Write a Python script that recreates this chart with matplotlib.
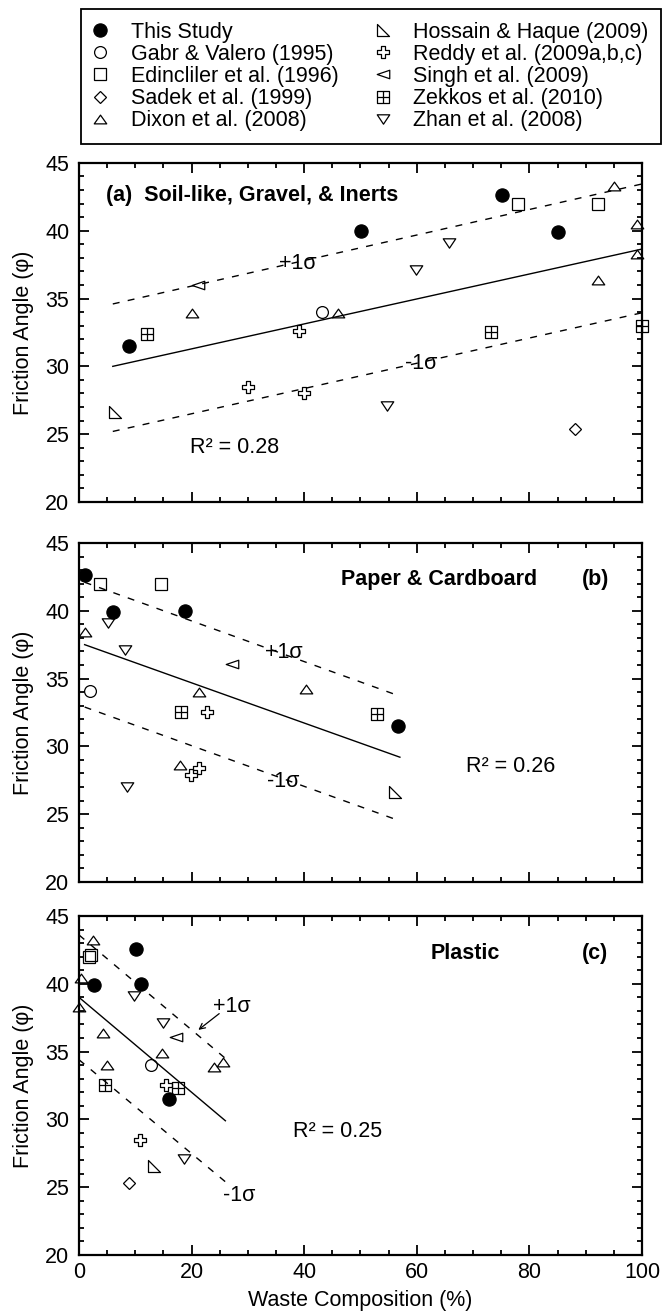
import matplotlib
matplotlib.use('Agg')
import matplotlib.pyplot as plt
from matplotlib.path import Path
from matplotlib.lines import Line2D

plt.rcParams['font.family'] = ['Liberation Sans', 'DejaVu Sans']
FS = 15.5

# ---------------- data (x = waste composition %, y = friction angle) -------------
study_labels = ['This Study', 'Gabr & Valero (1995)', 'Edincliler et al. (1996)',
                'Sadek et al. (1999)', 'Dixon et al. (2008)', 'Hossain & Haque (2009)',
                'Reddy et al. (2009a,b,c)', 'Singh et al. (2009)', 'Zekkos et al. (2010)',
                'Zhan et al. (2008)']

# (a) Soil-like, Gravel, & Inerts
soil_this_x = [8.9, 50.1, 75.1, 85.1];            soil_this_y = [31.5, 40.0, 42.6, 39.9]
soil_gabr_x = [43.1];                              soil_gabr_y = [34.0]
soil_edin_x = [78.0, 92.1];                        soil_edin_y = [42.0, 42.0]
soil_sadek_x = [88.1];                             soil_sadek_y = [25.4]
soil_dixon_x = [20.0, 46.0, 92.2, 95.1, 99.1, 99.1]; soil_dixon_y = [33.9, 33.9, 36.4, 43.3, 40.5, 38.3]
soil_hoss_x = [6.4];                               soil_hoss_y = [26.6]
soil_reddy_x = [30.0, 39.0, 40.0];                 soil_reddy_y = [28.5, 32.6, 28.0]
soil_singh_x = [21.1];                             soil_singh_y = [36.0]
soil_zek_x = [12.1, 73.1, 100.0];                  soil_zek_y = [32.4, 32.5, 33.0]
soil_zhan_x = [54.7, 59.8, 65.7];                  soil_zhan_y = [27.1, 37.1, 39.1]
soil_fit_x = [6, 100]
soil_fit_y = [30.0, 38.65]
soil_up_y = [34.6, 43.45]
soil_lo_y = [25.2, 33.95]

# (b) Paper & Cardboard
paper_this_x = [1.1, 6.1, 18.9, 56.7];             paper_this_y = [42.6, 39.9, 40.0, 31.5]
paper_gabr_x = [2.0];                              paper_gabr_y = [34.1]
paper_edin_x = [3.8, 14.5];                        paper_edin_y = [42.0, 42.0]
paper_sadek_x = [];                                paper_sadek_y = []
paper_dixon_x = [1.1, 21.3, 40.3, 17.9];           paper_dixon_y = [38.4, 34.0, 34.2, 28.6]
paper_hoss_x = [56.2];                             paper_hoss_y = [26.6]
paper_reddy_x = [22.8, 19.9, 21.4];                paper_reddy_y = [32.5, 27.9, 28.4]
paper_singh_x = [27.2];                            paper_singh_y = [36.05]
paper_zek_x = [18.1, 52.9];                        paper_zek_y = [32.5, 32.35]
paper_zhan_x = [5.1, 8.2, 8.6];                    paper_zhan_y = [39.1, 37.1, 27.0]
paper_fit_x = [1, 57]
paper_fit_y = [37.5, 29.2]
paper_up_y = [42.1, 33.7]
paper_lo_y = [32.9, 24.5]

# (c) Plastic
plast_this_x = [2.7, 10.2, 11.0, 16.0];            plast_this_y = [39.9, 42.6, 39.95, 31.5]
plast_gabr_x = [12.7];                             plast_gabr_y = [34.0]
plast_edin_x = [1.7, 2.1];                         plast_edin_y = [42.0, 42.1]
plast_sadek_x = [8.8];                             plast_sadek_y = [25.3]
plast_dixon_x = [2.5, 0.3, 0.0, 4.3, 5.0, 14.8, 23.9, 25.5]
plast_dixon_y = [43.2, 40.4, 38.3, 36.4, 34.0, 34.9, 33.9, 34.2]
plast_hoss_x = [13.3];                             plast_hoss_y = [26.6]
plast_reddy_x = [15.4, 10.9];                      plast_reddy_y = [32.5, 28.5]
plast_singh_x = [17.2];                            plast_singh_y = [36.05]
plast_zek_x = [4.7, 17.5];                         plast_zek_y = [32.5, 32.3]
plast_zhan_x = [9.8, 14.9, 18.6];                  plast_zhan_y = [39.1, 37.1, 27.1]
plast_fit_x = [0, 26]
plast_fit_y = [39.0, 29.9]
plast_up_y = [43.6, 34.5]
plast_lo_y = [34.4, 25.4]

y_ticks = [20, 25, 30, 35, 40, 45]
x_ticks = [0, 20, 40, 60, 80, 100]

# ---------------- marker definitions ----------------
M, L, C = Path.MOVETO, Path.LINETO, Path.CLOSEPOLY
tri_up = Path([(-1, -0.7), (1, -0.7), (0, 0.7), (-1, -0.7)], [M, L, L, C])
tri_down = Path([(-1, 0.75), (1, 0.75), (0, -0.75), (-1, 0.75)], [M, L, L, C])
tri_left = Path([(1, 0.68), (1, -0.68), (-1, 0), (1, 0.68)], [M, L, L, C])
tri_right_angle = Path([(-1, 1), (-1, -1), (1, -1), (-1, 1)], [M, L, L, C])
a = 0.36
plus_out = Path([(-a, 1), (a, 1), (a, a), (1, a), (1, -a), (a, -a), (a, -1), (-a, -1),
                 (-a, -a), (-1, -a), (-1, a), (-a, a), (-a, 1)],
                [M] + [L] * 11 + [C])
sq_plus = Path([(-1, -1), (1, -1), (1, 1), (-1, 1), (-1, -1), (0, -1), (0, 1), (-1, 0), (1, 0)],
               [M, L, L, L, C, M, L, M, L])

styles = [
    dict(marker='o', ms=9.5, mfc='black', mec='black'),
    dict(marker='o', ms=8.5, mfc='none', mec='black'),
    dict(marker='s', ms=8.5, mfc='none', mec='black'),
    dict(marker='D', ms=6.0, mfc='none', mec='black'),
    dict(marker=tri_up, ms=9, mfc='none', mec='black'),
    dict(marker=tri_right_angle, ms=8.5, mfc='none', mec='black'),
    dict(marker=plus_out, ms=9, mfc='none', mec='black'),
    dict(marker=tri_left, ms=9, mfc='none', mec='black'),
    dict(marker=sq_plus, ms=9, mfc='none', mec='black'),
    dict(marker=tri_down, ms=9, mfc='none', mec='black'),
]

panels = [
    dict(pts=[(soil_this_x, soil_this_y), (soil_gabr_x, soil_gabr_y), (soil_edin_x, soil_edin_y),
              (soil_sadek_x, soil_sadek_y), (soil_dixon_x, soil_dixon_y), (soil_hoss_x, soil_hoss_y),
              (soil_reddy_x, soil_reddy_y), (soil_singh_x, soil_singh_y), (soil_zek_x, soil_zek_y),
              (soil_zhan_x, soil_zhan_y)],
         fx=soil_fit_x, fy=soil_fit_y, up=soil_up_y, lo=soil_lo_y),
    dict(pts=[(paper_this_x, paper_this_y), (paper_gabr_x, paper_gabr_y), (paper_edin_x, paper_edin_y),
              (paper_sadek_x, paper_sadek_y), (paper_dixon_x, paper_dixon_y), (paper_hoss_x, paper_hoss_y),
              (paper_reddy_x, paper_reddy_y), (paper_singh_x, paper_singh_y), (paper_zek_x, paper_zek_y),
              (paper_zhan_x, paper_zhan_y)],
         fx=paper_fit_x, fy=paper_fit_y, up=paper_up_y, lo=paper_lo_y),
    dict(pts=[(plast_this_x, plast_this_y), (plast_gabr_x, plast_gabr_y), (plast_edin_x, plast_edin_y),
              (plast_sadek_x, plast_sadek_y), (plast_dixon_x, plast_dixon_y), (plast_hoss_x, plast_hoss_y),
              (plast_reddy_x, plast_reddy_y), (plast_singh_x, plast_singh_y), (plast_zek_x, plast_zek_y),
              (plast_zhan_x, plast_zhan_y)],
         fx=plast_fit_x, fy=plast_fit_y, up=plast_up_y, lo=plast_lo_y),
]

fig = plt.figure(figsize=(6.65, 13.14), dpi=100)
left, width, height = 0.1188, 0.8466, 0.2580
bottoms = [0.6180, 0.3288, 0.0449]
axes = []
for i, p in enumerate(panels):
    ax = fig.add_axes([left, bottoms[i], width, height])
    axes.append(ax)
    ax.plot(p['fx'], p['fy'], color='black', lw=1.0, zorder=2)
    ax.plot(p['fx'], p['up'], color='black', lw=1.0, dashes=(5, 6), zorder=2)
    ax.plot(p['fx'], p['lo'], color='black', lw=1.0, dashes=(5, 6), zorder=2)
    for (xs, ys), st in zip(p['pts'], styles):
        ax.plot(xs, ys, linestyle='none', mew=0.9, zorder=3, clip_on=False, **st)
    ax.set_xlim(0, 100)
    ax.set_ylim(20, 45)
    ax.set_xticks(x_ticks)
    ax.set_xticks(range(0, 101, 5), minor=True)
    ax.set_yticks(y_ticks)
    ax.set_yticks(range(20, 46), minor=True)
    ax.tick_params(which='both', direction='in', top=True, right=True, width=1.3,
                   labelsize=FS)
    ax.tick_params(which='major', length=7)
    ax.tick_params(which='minor', length=3.5)
    ax.tick_params(axis='y', pad=7)
    ax.tick_params(axis='x', pad=5)
    for s in ax.spines.values():
        s.set_linewidth(1.6)
    ax.set_ylabel('Friction Angle (φ)', fontsize=FS, labelpad=8)
    if i < 2:
        ax.tick_params(axis='x', labelbottom=False)

axes[2].set_xlabel('Waste Composition (%)', fontsize=FS, labelpad=5)

# annotations panel a
ax = axes[0]
ax.text(4.8, 42.6, '(a)  Soil-like, Gravel, & Inerts', fontsize=FS, fontweight='bold',
        ha='left', va='center')
ax.text(38.8, 37.6, '+1σ', fontsize=FS, ha='center', va='center')
ax.text(60.8, 30.2, '-1σ', fontsize=FS, ha='center', va='center')
ax.text(19.7, 24.0, 'R² = 0.28', fontsize=FS, ha='left', va='center')

# annotations panel b
ax = axes[1]
ax.text(46.5, 42.3, 'Paper & Cardboard', fontsize=FS, fontweight='bold', ha='left', va='center')
ax.text(89.4, 42.3, '(b)', fontsize=FS, fontweight='bold', ha='left', va='center')
ax.text(36.3, 36.9, '+1σ', fontsize=FS, ha='center', va='center')
ax.text(36.2, 27.4, '-1σ', fontsize=FS, ha='center', va='center')
ax.text(68.8, 28.5, 'R² = 0.26', fontsize=FS, ha='left', va='center')

# annotations panel c
ax = axes[2]
ax.text(62.4, 42.2, 'Plastic', fontsize=FS, fontweight='bold', ha='left', va='center')
ax.text(89.4, 42.2, '(c)', fontsize=FS, fontweight='bold', ha='left', va='center')
ax.annotate('', xy=(21.2, 36.6), xytext=(24.9, 37.8),
            arrowprops=dict(arrowstyle='->', lw=0.9, color='black', shrinkA=0, shrinkB=0))
ax.text(27.1, 38.3, '+1σ', fontsize=FS, ha='center', va='center')
ax.text(28.5, 24.4, '-1σ', fontsize=FS, ha='center', va='center')
ax.text(38.0, 29.1, 'R² = 0.25', fontsize=FS, ha='left', va='center')

# legend
handles = [Line2D([], [], linestyle='none', mew=0.9, **st) for st in styles]
leg = fig.legend(handles, study_labels, loc='upper left', ncol=2, mode='expand',
                 bbox_to_anchor=(0.1218, 0.8881, 0.8722, 0.1051), fontsize=FS,
                 frameon=True, fancybox=False, edgecolor='black', framealpha=1,
                 borderaxespad=0, handlelength=0.6, handletextpad=1.1,
                 labelspacing=0.05, borderpad=0.6, columnspacing=1.0)
leg.get_frame().set_linewidth(1.3)

fig.savefig('out.png', dpi=100)
